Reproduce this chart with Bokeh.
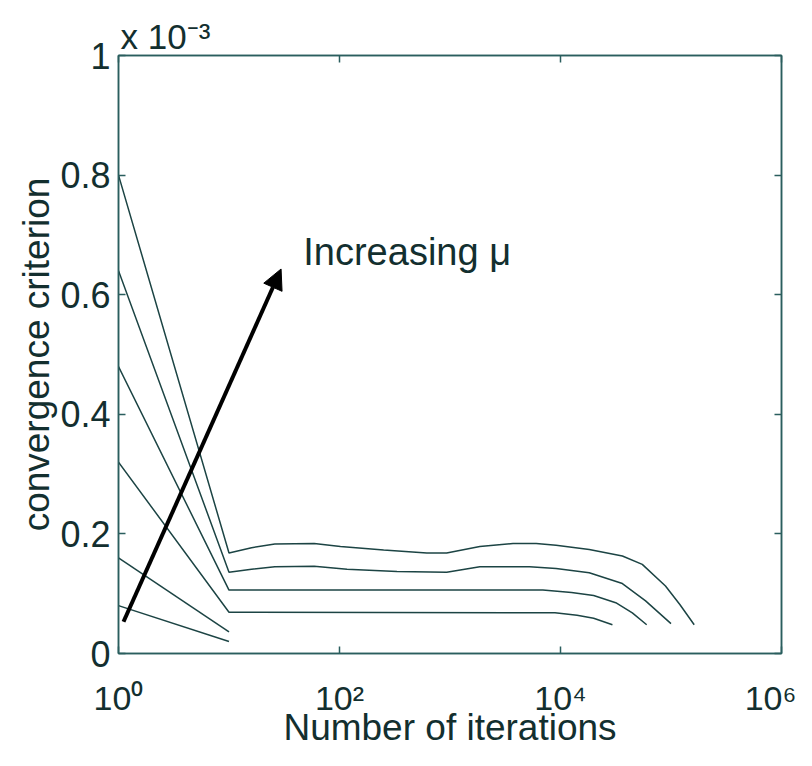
import math
from bokeh.plotting import figure
from bokeh.models import Range1d, LogAxis, LinearAxis, FixedTicker, Arrow, NormalHead, Label
from bokeh.embed import file_html
from bokeh.resources import INLINE

# ---- data (y in units of 1e-3) ----
x_ticks = [1, 100, 10000, 1000000]
x_tick_labels = ["10\u2070", "10\u00b2", "10\u2074", "10\u2076"]
y_ticks = [0, 0.2, 0.4, 0.6, 0.8, 1.0]
y_tick_labels = ["0", "0.2", "0.4", "0.6", "0.8", "1"]
y_multiplier = "x 10\u207b\u00b3"
x_title = "Number of iterations"
y_title = "convergence criterion"

s1_x = [1, 10, 16, 26, 59, 102, 251, 617, 933, 1862, 3715, 6026, 9120, 18197, 36308, 54954, 89125, 120226, 162181]
s1_y = [0.80, 0.168, 0.177, 0.183, 0.184, 0.179, 0.173, 0.168, 0.168, 0.179, 0.184, 0.184, 0.181, 0.174, 0.163, 0.149, 0.113, 0.082, 0.048]

s2_x = [1, 10, 16, 26, 59, 117, 331, 933, 1862, 5248, 9120, 18197, 36308, 58884, 100000]
s2_y = [0.64, 0.136, 0.141, 0.145, 0.146, 0.141, 0.137, 0.136, 0.145, 0.145, 0.142, 0.135, 0.117, 0.088, 0.050]

s3_x = [1, 10, 6918, 12589, 19953, 31623, 44668, 60256]
s3_y = [0.48, 0.106, 0.106, 0.102, 0.097, 0.085, 0.068, 0.048]

s4_x = [1, 10, 8913, 14125, 19953, 29512]
s4_y = [0.32, 0.069, 0.068, 0.064, 0.059, 0.048]

s5_x = [1, 10]
s5_y = [0.16, 0.036]

s6_x = [1, 10]
s6_y = [0.08, 0.020]

arrow_x = [1.11, 29.6]
arrow_y = [0.053, 0.643]
annot_text = "Increasing \u03bc"
annot_x = 47
annot_y = 0.672

FONT = "Liberation Sans"
TXT = "#132f2f"
LINE = "#1c4444"
FRAME = "#2a5e5e"

p = figure(width=796, height=750, x_axis_type="log",
           x_range=Range1d(1, 1e6), y_range=Range1d(0, 1),
           output_backend="svg", toolbar_location=None,
           min_border_left=118, min_border_right=15,
           min_border_top=55, min_border_bottom=90,
           title=y_multiplier)
p.grid.visible = False
p.background_fill_color = "white"
p.outline_line_color = FRAME
p.outline_line_width = 1.5

p.title.text_font = FONT
p.title.text_font_size = "35px"
p.title.text_font_style = "normal"
p.title.text_color = TXT
p.title.align = "left"
p.title.offset = 2
p.title.standoff = 0

def style_axis(ax, ticks, overrides=None, size="35px", standoff=8):
    ax.ticker = FixedTicker(ticks=ticks, minor_ticks=[])
    ax.major_tick_in = 7
    ax.major_tick_out = 0
    ax.minor_tick_line_color = None
    ax.axis_line_color = FRAME
    ax.axis_line_width = 1.5
    ax.major_tick_line_color = FRAME
    ax.major_tick_line_width = 1.5
    if overrides is not None:
        ax.major_label_overrides = overrides
        ax.major_label_text_font = FONT
        ax.major_label_text_font_size = size
        ax.major_label_text_color = TXT
        ax.major_label_standoff = standoff
    else:
        ax.major_label_overrides = {t: "" for t in ticks}
        ax.major_label_text_font_size = "1px"
        ax.major_label_standoff = 0

xa = p.xaxis[0]
style_axis(xa, x_ticks, {t: l for t, l in zip(x_ticks, x_tick_labels)}, "34px", 25)
xa.axis_label = x_title
xa.axis_label_text_font = FONT
xa.axis_label_text_font_size = "37px"
xa.axis_label_text_font_style = "normal"
xa.axis_label_text_color = TXT
xa.axis_label_standoff = -13

ya = p.yaxis[0]
style_axis(ya, y_ticks, {t: l for t, l in zip(y_ticks, y_tick_labels)}, "36px", 8)
ya.axis_label = y_title
ya.axis_label_text_font = FONT
ya.axis_label_text_font_size = "37px"
ya.axis_label_text_font_style = "normal"
ya.axis_label_text_color = TXT
ya.axis_label_standoff = 0

top = LogAxis()
style_axis(top, x_ticks)
p.add_layout(top, "above")
right = LinearAxis()
style_axis(right, y_ticks)
p.add_layout(right, "right")

for xs, ys in [(s1_x, s1_y), (s2_x, s2_y), (s3_x, s3_y), (s4_x, s4_y), (s5_x, s5_y), (s6_x, s6_y)]:
    p.line(xs, ys, line_color=LINE, line_width=1.5)

p.add_layout(Arrow(end=NormalHead(size=20, fill_color="black", line_color="black"),
                   x_start=arrow_x[0], y_start=arrow_y[0], x_end=arrow_x[1], y_end=arrow_y[1],
                   line_width=4, line_color="black"))

p.add_layout(Label(x=annot_x, y=annot_y, text=annot_text, text_font=FONT,
                   text_font_size="38px", text_color=TXT, text_baseline="alphabetic"))

open("out.html", "w").write(file_html(p, INLINE))
